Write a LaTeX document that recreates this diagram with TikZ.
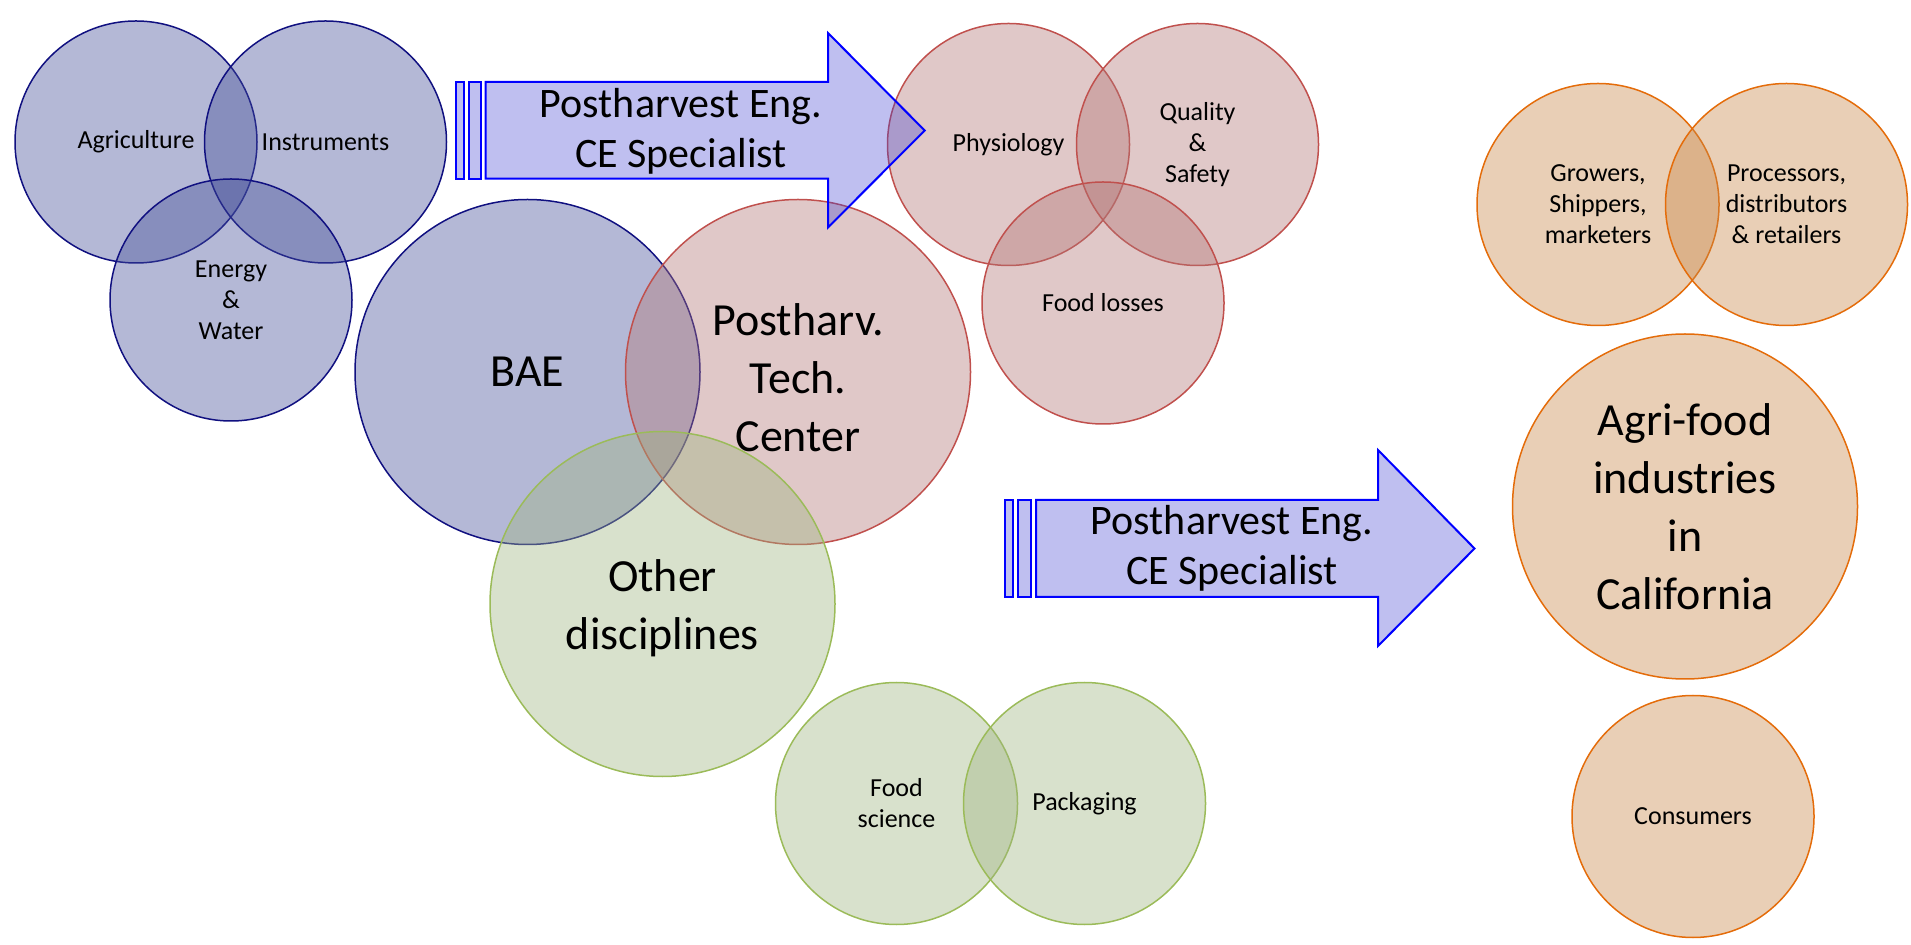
\documentclass[tikz,border=0pt]{standalone}
\usepackage{fontspec}
\setmainfont{Carlito}
\definecolor{navyc}{RGB}{16,16,128}
\definecolor{bluef}{RGB}{68,78,152}
\definecolor{redc}{RGB}{192,80,77}
\definecolor{redf}{RGB}{178,118,118}
\definecolor{greenc}{RGB}{155,187,89}
\definecolor{greenf}{RGB}{158,180,128}
\definecolor{orangec}{RGB}{228,108,10}
\definecolor{orangef}{RGB}{200,135,72}
\definecolor{arrowf}{RGB}{60,60,210}
\definecolor{arrowc}{RGB}{0,0,255}
\tikzset{
  venn/.style={circle, inner sep=0pt, line width=0.75pt, fill opacity=0.4},
  smallc/.style={venn, minimum size=121pt},
  bigc/.style={venn, minimum size=172.5pt},
  bluec/.style={draw=navyc, fill=bluef},
  redcc/.style={draw=redc, fill=redf},
  greencc/.style={draw=greenc, fill=greenf},
  orangecc/.style={draw=orangec, fill=orangef},
  lbl/.style={align=center, text=black, font=\fontsize{13}{15.5}\selectfont},
  biglbl/.style={align=center, text=black, font=\fontsize{23}{29}\selectfont},
  arrlbl/.style={align=center, text=black, font=\fontsize{21}{25}\selectfont},
  arrowshape/.style={draw=arrowc, line width=1pt, fill=arrowf, fill opacity=0.33, line join=miter},
}
\begin{document}
\begin{tikzpicture}[x=0.5pt, y=-0.5pt]
\useasboundingbox (0,0) rectangle (1911,945);
% blue group
\node[smallc, bluec] (agr) at (136,142) {};
\node[smallc, bluec] (ins) at (325.5,142) {};
\node[smallc, bluec] (ene) at (231,300) {};
\node[bigc, bluec] (bae) at (527.5,372) {};
\node[bigc, redcc] (pth) at (798,372) {};
\node[bigc, greencc] (oth) at (662.5,604) {};
% red group
\node[smallc, redcc] (phy) at (1008.5,144.5) {};
\node[smallc, redcc] (qua) at (1197.5,144.5) {};
\node[smallc, redcc] (flo) at (1103,303) {};
% green group
\node[smallc, greencc] (fsc) at (896.5,803.5) {};
\node[smallc, greencc] (pac) at (1084.5,803.5) {};
% orange group
\node[smallc, orangecc] (gro) at (1598,204.5) {};
\node[smallc, orangecc] (pro) at (1786.5,204.5) {};
\node[bigc, orangecc] (agf) at (1685,506.5) {};
\node[smallc, orangecc] (con) at (1693,816.5) {};
% arrow 1
\draw[arrowshape] (456,82) rectangle (463.5,178.6);
\draw[arrowshape] (468.5,82) rectangle (481,178.6);
\draw[arrowshape] (485.6,82) -- (828,82) -- (828,33) -- (924.7,130.5) -- (828,227.5) -- (828,178.6) -- (485.6,178.6) -- cycle;
% arrow 2
\draw[arrowshape] (1005,500) rectangle (1013,597);
\draw[arrowshape] (1018,500) rectangle (1031,597);
\draw[arrowshape] (1036,500) -- (1378,500) -- (1378,450) -- (1474.5,548.5) -- (1378,646) -- (1378,597) -- (1036,597) -- cycle;
% labels
\node[lbl] (tagr) at (agr.center) {Agriculture};
\node[lbl] (tins) at (ins.center) {Instruments};
\node[lbl] (tene) at (ene.center) {Energy\\\&\\Water};
\node[biglbl] (tbae) at (bae.center) {BAE};
\node[biglbl] (tpth) at (798,378) {Postharv.\\Tech.\\Center};
\node[biglbl] (toth) at (662.5,608) {Other\\disciplines};
\node[lbl] (tphy) at (phy.center) {Physiology};
\node[lbl] (tqua) at (qua.center) {Quality\\\&\\Safety};
\node[lbl] (tflo) at (flo.center) {Food losses};
\node[lbl] (tfsc) at (fsc.center) {Food\\science};
\node[lbl] (tpac) at (pac.center) {Packaging};
\node[lbl] (tgro) at (gro.center) {Growers,\\Shippers,\\marketers};
\node[lbl] (tpro) at (pro.center) {Processors,\\distributors\\\& retailers};
\node[biglbl] (tagf) at (agf.center) {Agri-food\\industries\\in\\California};
\node[lbl] (tcon) at (con.center) {Consumers};
\node[arrlbl] (tar1) at (681,131) {Postharvest Eng.\\CE Specialist};
\node[arrlbl] (tar2) at (1232,548) {Postharvest Eng.\\CE Specialist};
\end{tikzpicture}
\end{document}
